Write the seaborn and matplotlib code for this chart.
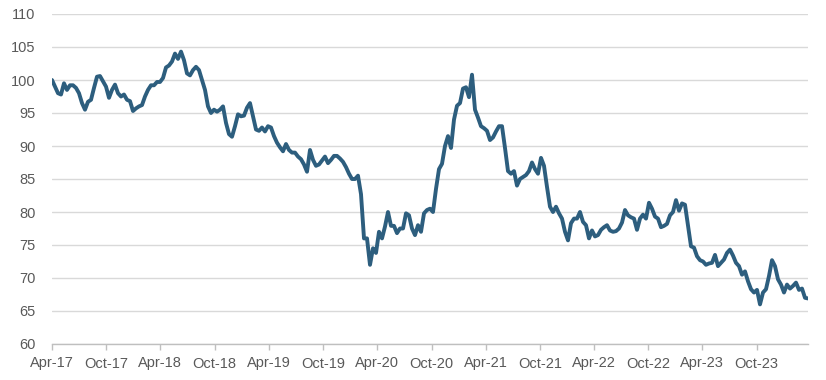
import matplotlib
matplotlib.use("Agg")
import matplotlib.pyplot as plt
import seaborn as sns
import pandas as pd

start_date = "2017-04-01"
end_date = "2024-03-22"
values = [
    100, 99, 98, 97.8, 99.5, 98.5, 99.2, 99.2, 98.8, 98,
    96.5, 95.5, 96.7, 97, 98.8, 100.5, 100.6, 99.8, 99, 97.3,
    98.5, 99.3, 98, 97.5, 97.8, 97, 96.8, 95.3, 95.7, 96,
    96.2, 97.5, 98.5, 99.2, 99.2, 99.7, 99.7, 100.3, 101.9, 102.2,
    102.8, 104, 103.2, 104.3, 103, 101, 100.7, 101.5, 102, 101.5,
    100, 98.5, 96, 95, 95.5, 95.2, 95.5, 96, 93.5, 91.8,
    91.4, 93, 94.8, 94.5, 94.6, 95.8, 96.5, 94.5, 92.5, 92.3,
    92.8, 92.2, 93, 92.8, 91.5, 90.5, 89.8, 89.2, 90.3, 89.4,
    89, 89, 88.4, 88, 87.2, 86.1, 89.4, 87.9, 87, 87.2,
    87.8, 88.4, 87.4, 87.9, 88.5, 88.5, 88.1, 87.6, 86.8, 85.8,
    85, 85, 85.5, 82.7, 76, 76, 72, 74.5, 73.8, 77,
    76, 77.8, 80, 77.9, 77.9, 76.8, 77.5, 77.5, 79.8, 79.5,
    77.5, 76.5, 78, 77, 79.8, 80.3, 80.5, 80, 83.5, 86.5,
    87.3, 90, 91.5, 89.7, 94, 96.1, 96.5, 98.7, 98.9, 97.4,
    100.8, 95.5, 94.3, 93, 92.7, 92.3, 90.9, 91.3, 92.2, 93,
    93, 89.7, 86.2, 85.8, 86.2, 84, 85, 85.3, 85.6, 86.2,
    87.5, 86.5, 85.8, 88.2, 87, 83.8, 80.8, 80, 80.8, 79.8,
    79, 77, 75.7, 78.3, 79, 79, 80, 78.5, 78, 76,
    77.2, 76.3, 76.5, 77.3, 77.7, 78, 77.2, 77, 77.1, 77.5,
    78.4, 80.3, 79.5, 79.2, 79, 77.3, 79, 79.6, 79, 81.4,
    80.5, 79.3, 79, 77.7, 77.9, 78.2, 79.5, 80, 81.8, 80.2,
    81.3, 81.1, 78, 74.8, 74.6, 73.3, 72.7, 72.5, 72, 72.2,
    72.3, 73.5, 71.8, 72.3, 72.8, 73.8, 74.3, 73.4, 72.3, 71.8,
    70.5, 71, 69.5, 68.3, 67.8, 68.2, 66, 67.8, 68.3, 70.3,
    72.7, 71.8, 69.8, 69, 67.8, 69, 68.4, 68.8, 69.3, 68.2,
    68.4, 67, 66.9,
]
y_ticks = [60, 65, 70, 75, 80, 85, 90, 95, 100, 105, 110]
x_tick_labels = ["Apr-17", "Oct-17", "Apr-18", "Oct-18", "Apr-19", "Oct-19", "Apr-20",
                 "Oct-20", "Apr-21", "Oct-21", "Apr-22", "Oct-22", "Apr-23", "Oct-23"]

df = pd.DataFrame({
    "date": pd.date_range(start_date, end_date, periods=len(values)),
    "value": values,
})

sns.set_theme(style="white")
plt.rcParams["font.family"] = ["Liberation Sans", "DejaVu Sans"]

fig = plt.figure(figsize=(8.26, 3.8), dpi=100)
ax = fig.add_axes([52 / 826, 1 - 344 / 380, (808 - 52) / 826, (344 - 14) / 380])

sns.lineplot(data=df, x="date", y="value", ax=ax, color="#2D5E7E", linewidth=2.8)

ax.set_ylim(60, 110)
ax.set_yticks(y_ticks)
ax.set_yticklabels([str(v) for v in y_ticks])
ax.set_xlim(pd.Timestamp(start_date), pd.Timestamp(end_date))
tick_dates = [pd.to_datetime(t, format="%b-%y") for t in x_tick_labels]
ax.set_xticks(tick_dates)
ax.set_xticklabels(x_tick_labels)

ax.set_xlabel("")
ax.set_ylabel("")
ax.grid(axis="y", color="#D9D9D9", linewidth=1)
ax.grid(axis="x", visible=False)
for s in ["top", "right", "left"]:
    ax.spines[s].set_visible(False)
ax.spines["bottom"].set_color("#BFBFBF")
ax.spines["bottom"].set_linewidth(1)
ax.tick_params(axis="y", length=0, pad=12, labelsize=10.5, labelcolor="#595959")
ax.tick_params(axis="x", length=4, width=1, color="#BFBFBF", direction="out",
               bottom=True, pad=5, labelsize=10.5, labelcolor="#595959")

fig.savefig("out.png", dpi=100)
